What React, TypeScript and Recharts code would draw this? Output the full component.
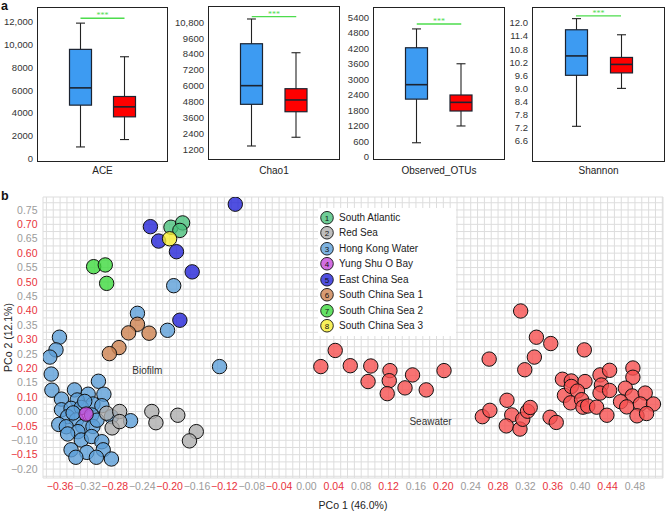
import {
  Bar,
  CartesianGrid,
  ComposedChart,
  Label,
  Legend,
  ReferenceDot,
  ReferenceLine,
  Scatter,
  ScatterChart,
  XAxis,
  YAxis,
} from 'recharts';

const FONT = '"Liberation Sans", Arial, Helvetica, sans-serif';
const RED = '#e8323c';
const GRAY = '#9b9b9b';

// panel a: [min, q1, median, q3, max]
const habitats = ['Biofilm', 'Seawater'];
const aceBiofilm = [1000, 4680, 6200, 9590, 11900];
const aceSeawater = [1650, 3650, 4530, 5440, 8940];
const chaoBiofilm = [1450, 4600, 6010, 9180, 11050];
const chaoSeawater = [2110, 4040, 4930, 5780, 8500];
const otuBiofilm = [540, 2230, 2790, 4220, 4950];
const otuSeawater = [1190, 1770, 2105, 2390, 3600];
const shannonBiofilm = [7.26, 9.6, 10.49, 11.69, 12.2];
const shannonSeawater = [9.0, 9.71, 10.1, 10.42, 11.46];

const aceTicks = [0, 2000, 4000, 6000, 8000, 10000, 12000];
const chaoTicks = [1200, 2400, 3600, 4800, 6000, 7200, 8400, 9600, 10800];
const otuTicks = [0, 600, 1200, 1800, 2400, 3000, 3600, 4200, 4800, 5400];
const shannonTicks = [6.6, 7.2, 7.8, 8.4, 9.0, 9.6, 10.2, 10.8, 11.4, 12.0];

const commaFmt = (v: number) => (v >= 10000 ? v.toLocaleString('en-US') : String(v));
const decFmt = (v: number) => v.toFixed(1);

const panels = [
  { name: 'ACE', stats: [aceBiofilm, aceSeawater], ticks: aceTicks, domain: [-326, 13320], sig: 12330, fmt: commaFmt, left: 37, right: 168, top: 7, bottom: 162 },
  { name: 'Chao1', stats: [chaoBiofilm, chaoSeawater], ticks: chaoTicks, domain: [391, 12032], sig: 11223, fmt: commaFmt, left: 208, right: 340, top: 6, bottom: 160 },
  { name: 'Observed_OTUs', stats: [otuBiofilm, otuSeawater], ticks: otuTicks, domain: [-128, 5799], sig: 5140, fmt: commaFmt, left: 373, right: 505, top: 7, bottom: 160 },
  { name: 'Shannon', stats: [shannonBiofilm, shannonSeawater], ticks: shannonTicks, domain: [5.623, 12.734], sig: 12.33, fmt: decFmt, left: 532, right: 665, top: 7, bottom: 162 },
];

// panel b: PCoA coordinates
const southAtlantic = [[-0.198, 0.69], [-0.181, 0.705], [-0.185, 0.679]];
const redSea = [
  [-0.292, 0.044], [-0.273, 0.05], [-0.284, -0.007], [-0.273, 0.015], [-0.226, 0.05],
  [-0.22, 0.011], [-0.188, 0.037], [-0.161, -0.02], [-0.171, -0.052],
];
const hongKong = [
  [-0.194, 0.487], [-0.247, 0.391], [-0.203, 0.332], [-0.127, 0.206], [-0.257, 0.018],
  [-0.361, 0.308], [-0.366, 0.264], [-0.375, 0.239], [-0.373, 0.18], [-0.372, 0.124],
  [-0.304, 0.155], [-0.339, 0.125], [-0.319, 0.11], [-0.296, 0.11], [-0.358, 0.093],
  [-0.335, 0.09], [-0.312, 0.076], [-0.299, 0.07], [-0.358, 0.056], [-0.344, 0.061],
  [-0.329, 0.064], [-0.349, 0.032], [-0.314, 0.038], [-0.336, 0.021], [-0.362, 0.005],
  [-0.351, -0.003], [-0.327, -0.002], [-0.312, -0.002], [-0.334, -0.02], [-0.349, -0.028],
  [-0.329, -0.049], [-0.314, -0.037], [-0.299, -0.055], [-0.344, -0.083], [-0.321, -0.092],
  [-0.297, -0.083], [-0.337, -0.109], [-0.307, -0.109], [-0.285, -0.115], [-0.285, 0.032],
  [-0.324, 0.085], [-0.306, 0.02], [-0.341, 0.045],
];
const yungShuO = [[-0.322, 0.041]];
const eastChina = [[-0.104, 0.77], [-0.228, 0.692], [-0.216, 0.642], [-0.19, 0.605], [-0.167, 0.535], [-0.185, 0.367]];
const southChina1 = [[-0.247, 0.353], [-0.26, 0.323], [-0.23, 0.322], [-0.274, 0.272], [-0.288, 0.251]];
const southChina2 = [[-0.311, 0.553], [-0.294, 0.559], [-0.292, 0.495]];
const southChina3 = [[-0.2, 0.65]];
const seawater = [
  [0.042, 0.262], [0.021, 0.206], [0.064, 0.209], [0.094, 0.208], [0.122, 0.192],
  [0.09, 0.154], [0.121, 0.157], [0.118, 0.112], [0.144, 0.132], [0.155, 0.177],
  [0.175, 0.125], [0.201, 0.192], [0.267, 0.232], [0.257, 0.032], [0.268, 0.054],
  [0.313, 0.399], [0.336, 0.308], [0.357, 0.286], [0.333, 0.239], [0.319, 0.195],
  [0.406, 0.264], [0.293, 0.089], [0.3, 0.038], [0.292, 0.0], [0.312, -0.011],
  [0.316, 0.023], [0.323, 0.051], [0.327, 0.064], [0.356, 0.03], [0.365, 0.012],
  [0.374, 0.162], [0.387, 0.156], [0.407, 0.154], [0.429, 0.177], [0.443, 0.193],
  [0.477, 0.201], [0.477, 0.169], [0.377, 0.106], [0.387, 0.137], [0.396, 0.121],
  [0.386, 0.08], [0.402, 0.091], [0.404, 0.065], [0.411, 0.069], [0.424, 0.065],
  [0.431, 0.142], [0.429, 0.114], [0.443, 0.123], [0.439, 0.037], [0.466, 0.131],
  [0.476, 0.104], [0.495, 0.114], [0.459, 0.084], [0.468, 0.066], [0.488, 0.076],
  [0.507, 0.076], [0.483, 0.035], [0.497, 0.043],
];

const xLabelValues = [-0.36, -0.32, -0.28, -0.24, -0.2, -0.16, -0.12, -0.08, -0.04, 0, 0.04, 0.08, 0.12, 0.16, 0.2, 0.24, 0.28, 0.32, 0.36, 0.4, 0.44, 0.48];
const xLabelText = ['−0.36', '−0.32', '−0.28', '−0.24', '−0.20', '−0.16', '−0.12', '−0.08', '−0.04', '0.00', '0.04', '0.08', '0.12', '0.16', '0.20', '0.24', '0.28', '0.32', '0.36', '0.40', '0.44', '0.48'];
const yLabelValues = [0.75, 0.7, 0.65, 0.6, 0.55, 0.5, 0.45, 0.4, 0.35, 0.3, 0.25, 0.2, 0.15, 0.1, 0.05, 0, -0.05, -0.1, -0.15];
const yLabelText = ['0.75', '0.70', '0.65', '0.60', '0.55', '0.50', '0.45', '0.40', '0.35', '0.30', '0.25', '0.20', '0.15', '0.10', '0.00', '−0.05', '−0.10', '−0.15', '−0.20'];

const xGrid = Array.from({ length: 91 }, (_, i) => Math.round((-0.38 + i * 0.01) * 1000) / 1000);
const yGrid = Array.from({ length: 39 }, (_, i) => Math.round((-0.175 + i * 0.025) * 1000) / 1000);

const sites = [
  { name: 'South Atlantic', color: '#4ac07c', points: southAtlantic },
  { name: 'Red Sea', color: '#aeaeae', points: redSea },
  { name: 'Hong Kong Water', color: '#5c9fd8', points: hongKong },
  { name: 'Yung Shu O Bay', color: '#c74ad9', points: yungShuO },
  { name: 'East China Sea', color: '#2424d8', points: eastChina },
  { name: 'South China Sea 1', color: '#cd8250', points: southChina1 },
  { name: 'South China Sea 2', color: '#3dd93d', points: southChina2 },
  { name: 'South China Sea 3', color: '#f6ec31', points: southChina3 },
];
const drawOrder = [2, 1, 3, 0, 4, 5, 6, 7];

function BoxShape(props: any) {
  const { x, y, width, height, payload } = props;
  const [lo, q1, med, q3, hi] = payload.stats;
  const top = Math.min(y, y + height);
  const bot = Math.max(y, y + height);
  const py = (v: number) => top + ((hi - v) / (hi - lo)) * (bot - top);
  const cx = x + width / 2;
  const fill = payload.habitat === 'Biofilm' ? '#3d9bf2' : '#ff0000';
  return (
    <g>
      <line x1={cx} x2={cx} y1={py(hi)} y2={py(lo)} stroke="#222" strokeWidth={1.1} />
      <line x1={cx - 4.5} x2={cx + 4.5} y1={py(hi)} y2={py(hi)} stroke="#222" strokeWidth={1.1} />
      <line x1={cx - 4.5} x2={cx + 4.5} y1={py(lo)} y2={py(lo)} stroke="#222" strokeWidth={1.1} />
      <rect x={x} y={py(q3)} width={width} height={py(q1) - py(q3)} fill={fill} stroke="#1c2330" strokeWidth={1.2} />
      <line x1={x} x2={x + width} y1={py(med)} y2={py(med)} stroke="#1c2330" strokeWidth={1.6} />
    </g>
  );
}

function BoxPanel({ panel }: { panel: (typeof panels)[number] }) {
  const w = panel.right - panel.left;
  const data = habitats.map((h, i) => ({
    habitat: h,
    range: [panel.stats[i][0], panel.stats[i][4]],
    stats: panel.stats[i],
  }));
  return (
    <>
      <div style={{ position: 'absolute', left: panel.left - 40, top: 0 }}>
        <ComposedChart
          width={w + 42}
          height={170}
          data={data}
          margin={{ top: panel.top, right: 2, bottom: 170 - panel.bottom, left: 0 }}
        >
          <XAxis dataKey="habitat" hide padding={{ left: 21.5, right: 21.5 }} />
          <YAxis
            type="number"
            domain={panel.domain}
            allowDataOverflow
            ticks={panel.ticks}
            interval={0}
            width={40}
            tickSize={0}
            tickMargin={4}
            axisLine={false}
            tickLine={false}
            tick={{ fontSize: 9.5, fill: '#333', fontFamily: FONT }}
            tickFormatter={panel.fmt}
          />
          <Bar dataKey="range" barSize={22} shape={BoxShape} isAnimationActive={false} />
          <ReferenceLine
            segment={[{ x: 'Biofilm', y: panel.sig }, { x: 'Seawater', y: panel.sig }]}
            stroke="#4ddc4d"
            strokeWidth={1.3}
            label={{ value: '***', position: 'top', fill: '#4ddc4d', fontSize: 8, offset: 0 }}
          />
        </ComposedChart>
      </div>
      <div
        style={{
          position: 'absolute',
          left: panel.left,
          top: panel.top,
          width: w,
          height: panel.bottom - panel.top,
          border: '1.4px solid #222',
          boxSizing: 'border-box',
          pointerEvents: 'none',
        }}
      />
      <div
        style={{
          position: 'absolute',
          left: panel.left,
          top: 165,
          width: w,
          textAlign: 'center',
          fontFamily: FONT,
          fontSize: 10,
          color: '#222',
        }}
      >
        {panel.name}
      </div>
    </>
  );
}

function XTick({ x, y, payload }: any) {
  const i = xLabelValues.findIndex((v) => Math.abs(v - payload.value) < 1e-6);
  if (i < 0) return <g />;
  return (
    <text x={x} y={y} dy="0.71em" textAnchor="middle" fontSize={10.5} fontFamily={FONT} fill={i % 2 === 0 ? RED : GRAY}>
      {xLabelText[i]}
    </text>
  );
}

function YTick({ x, y, payload }: any) {
  const i = yLabelValues.findIndex((v) => Math.abs(v - payload.value) < 1e-6);
  if (i < 0) return <g />;
  return (
    <text x={x} y={y} dy="0.355em" textAnchor="end" fontSize={10.5} fontFamily={FONT} fill={i % 2 === 0 ? GRAY : RED}>
      {yLabelText[i]}
    </text>
  );
}

function YTitle({ viewBox }: any) {
  const cx = viewBox.x + 8;
  const cy = viewBox.y + viewBox.height / 2;
  return (
    <text x={cx} y={cy} transform={`rotate(-90 ${cx} ${cy})`} textAnchor="middle" dy="0.35em" fontSize={10.5} fontFamily={FONT} fill="#222">
      PCo 2 (12.1%)
    </text>
  );
}

function SiteLegend() {
  return (
    <div style={{ background: '#fff', width: 137, padding: '1.5px 0 2px 1px', fontFamily: FONT, fontSize: 10, color: '#222' }}>
      {sites.map((s, i) => (
        <div key={s.name} style={{ display: 'flex', alignItems: 'center', height: 15.5 }}>
          <svg width={16} height={15.5} style={{ flex: 'none' }}>
            <circle cx={8} cy={7.75} r={6.3} fill={s.color} fillOpacity={0.8} stroke="#111" strokeWidth={0.9} />
            <text x={8} y={7.75} dy="0.35em" textAnchor="middle" fontSize={8} fill="#111" fontFamily={FONT}>
              {i + 1}
            </text>
          </svg>
          <span style={{ marginLeft: 4, whiteSpace: 'nowrap', lineHeight: '15.5px' }}>{s.name}</span>
        </div>
      ))}
    </div>
  );
}

const dotShape = (color: string) => (props: any) => (
  <circle cx={props.cx} cy={props.cy} r={7.2} fill={color} fillOpacity={0.8} stroke="#111" strokeWidth={1} />
);

const toXY = (pts: number[][]) => pts.map(([x, y]) => ({ x, y }));

export default function App() {
  return (
    <div style={{ position: 'absolute', left: 0, top: 0, width: 668, height: 512, background: '#fff', overflow: 'hidden' }}>
      <svg width={668} height={512} style={{ position: 'absolute', left: 0, top: 0 }}>
        <text x={1} y={10} fontSize={12.5} fontWeight="bold" fontFamily={FONT} fill="#111">a</text>
        <text x={1} y={200} fontSize={12.5} fontWeight="bold" fontFamily={FONT} fill="#111">b</text>
      </svg>

      {panels.map((p) => (
        <BoxPanel key={p.name} panel={p} />
      ))}

      <div style={{ position: 'absolute', left: 0, top: 185 }}>
        <ScatterChart width={668} height={327} margin={{ top: 12, right: 5, bottom: 0, left: 0 }}>
          <CartesianGrid stroke="#dddddd" strokeWidth={1} />
          <XAxis
            type="number"
            dataKey="x"
            domain={[-0.385, 0.521]}
            allowDataOverflow
            ticks={xGrid}
            interval={0}
            tickSize={0}
            tickMargin={5}
            axisLine={false}
            tickLine={false}
            tick={<XTick />}
            height={34}
          >
            <Label value="PCo 1 (46.0%)" position="insideBottom" offset={3} fontSize={10.5} fontFamily={FONT} fill="#222" />
          </XAxis>
          <YAxis
            type="number"
            dataKey="y"
            domain={[-0.181, 0.795]}
            allowDataOverflow
            ticks={yGrid}
            interval={0}
            width={43}
            tickSize={0}
            tickMargin={5.5}
            axisLine={false}
            tickLine={false}
            tick={<YTick />}
            label={<YTitle />}
          />
          {drawOrder.map((i) => (
            <Scatter
              key={sites[i].name}
              name={sites[i].name}
              data={toXY(sites[i].points)}
              fill={sites[i].color}
              shape={dotShape(sites[i].color)}
              isAnimationActive={false}
            />
          ))}
          <Scatter name="Seawater" data={toXY(seawater)} fill="#f65050" shape={dotShape('#f65050')} legendType="none" isAnimationActive={false} />
          <ReferenceDot x={-0.2325} y={0.194} r={1} fill="none" stroke="none" label={{ value: 'Biofilm', position: 'center', fontSize: 10, fill: '#333', fontFamily: FONT }} />
          <ReferenceDot x={0.1813} y={0.015} r={1} fill="none" stroke="none" label={{ value: 'Seawater', position: 'center', fontSize: 10, fill: '#333', fontFamily: FONT }} />
          <Legend
            layout="vertical"
            align="center"
            verticalAlign="middle"
            content={() => <SiteLegend />}
            wrapperStyle={{ left: 318, top: 23, width: 137, height: 'auto' }}
          />
        </ScatterChart>
      </div>
    </div>
  );
}
